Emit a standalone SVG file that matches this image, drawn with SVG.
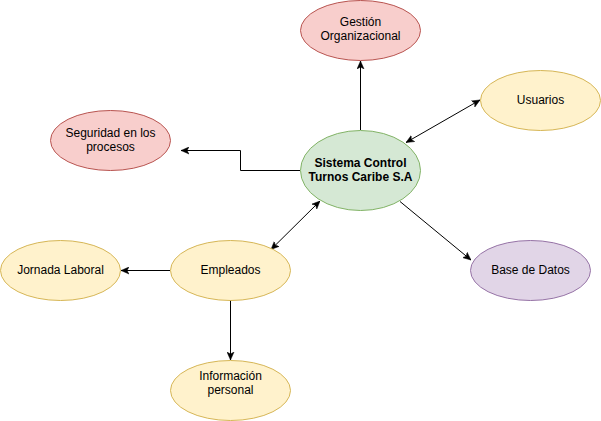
<svg xmlns="http://www.w3.org/2000/svg" width="601" height="421" viewBox="0 0 601 421">
<style>
.red{fill:#f8cecc;stroke:#b85450;stroke-width:1}
.yel{fill:#fff2cc;stroke:#d6b656;stroke-width:1}
.grn{fill:#d5e8d4;stroke:#82b366;stroke-width:1}
.pur{fill:#e1d5e7;stroke:#9673a6;stroke-width:1}
text{font-family:"Liberation Sans",Arial,sans-serif;font-size:12px;fill:#000;text-anchor:middle}
.b{font-weight:bold}
.c{fill:none;stroke:#000;stroke-width:1}
</style>
<defs>
<marker id="ah" viewBox="0 0 8 8" refX="8" refY="4" markerWidth="8" markerHeight="8" markerUnits="userSpaceOnUse" orient="auto-start-reverse">
<path d="M8,4 L0,0.5 L2,4 L0,7.5 Z" fill="#000" stroke="#000" stroke-width="0.5"/>
</marker>
</defs>
<rect width="601" height="421" fill="#fff"/>
<g id="connectors">
<line class="c" x1="360.5" y1="130" x2="360.5" y2="61" marker-end="url(#ah)"/>
<line class="c" x1="406" y1="142.5" x2="480" y2="100" marker-start="url(#ah)" marker-end="url(#ah)"/>
<polyline class="c" points="300,170.5 240.5,170.5 240.5,150.5 181,150.5" marker-end="url(#ah)"/>
<line class="c" x1="400" y1="201.5" x2="471" y2="260" marker-end="url(#ah)"/>
<line class="c" x1="320" y1="201" x2="271" y2="249.5" marker-start="url(#ah)" marker-end="url(#ah)"/>
<line class="c" x1="170" y1="270.5" x2="121" y2="270.5" marker-end="url(#ah)"/>
<line class="c" x1="230.5" y1="300" x2="230.5" y2="360" marker-end="url(#ah)"/>
</g>
<g id="gestion">
<ellipse class="red" cx="360.5" cy="30.5" rx="60" ry="30"/>
<text x="360.5" y="26">Gestión</text>
<text x="360.5" y="40">Organizacional</text>
</g>
<g id="usuarios">
<ellipse class="yel" cx="540.5" cy="100.5" rx="60" ry="30"/>
<text x="540.5" y="104">Usuarios</text>
</g>
<g id="seguridad">
<ellipse class="red" cx="110.5" cy="140.5" rx="60" ry="30"/>
<text x="110.5" y="136.5">Seguridad en los</text>
<text x="110.5" y="150.5">procesos</text>
</g>
<g id="sistema">
<ellipse class="grn" cx="360.5" cy="170.5" rx="60" ry="40"/>
<text class="b" x="360.5" y="166.5">Sistema Control</text>
<text class="b" x="360.5" y="180.5">Turnos Caribe S.A</text>
</g>
<g id="basedatos">
<ellipse class="pur" cx="530.5" cy="270.5" rx="60" ry="30"/>
<text x="530.5" y="274">Base de Datos</text>
</g>
<g id="jornada">
<ellipse class="yel" cx="60.5" cy="270.5" rx="60" ry="30"/>
<text x="60.5" y="274">Jornada Laboral</text>
</g>
<g id="empleados">
<ellipse class="yel" cx="230.5" cy="270.5" rx="60" ry="30"/>
<text x="230.5" y="274">Empleados</text>
</g>
<g id="informacion">
<ellipse class="yel" cx="230.5" cy="390.5" rx="60" ry="30"/>
<text x="230.5" y="379.5">Información</text>
<text x="230.5" y="393.5">personal</text>
</g>
</svg>
